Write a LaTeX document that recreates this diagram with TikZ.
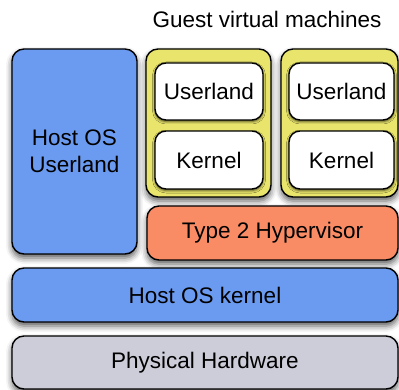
\documentclass[tikz,border=0pt]{standalone}
\usepackage{fontspec}
\setmainfont{Liberation Sans}
\usepackage{xcolor}
\usepackage{tikz}
\usetikzlibrary{shadows.blur}
\definecolor{hostblue}{RGB}{107,155,241}
\definecolor{vmyellow}{RGB}{233,228,108}
\definecolor{hypred}{RGB}{250,140,101}
\definecolor{hwgray}{RGB}{205,205,217}
\tikzset{every picture/.style={x=1pt,y=-1pt,every node/.style={font=\fontsize{22.5}{27}\selectfont}},
  layer/.style={rectangle, rounded corners=12pt, draw=black, line width=1.4pt, inner sep=0pt, align=center,
    blur shadow={shadow xshift=0pt, shadow yshift=-4pt, shadow blur radius=6pt, shadow opacity=65}},
  inbox/.style={layer, fill=white, rounded corners=11pt, blur shadow={shadow xshift=0pt, shadow yshift=-1.5pt, shadow blur radius=2.5pt, shadow opacity=40}}}

\begin{document}
\begin{tikzpicture}
  \useasboundingbox (0,0) rectangle (399,390);

  \node (title) at (267, 19){Guest virtual machines};

  \node[layer, fill=hostblue, minimum width=125pt, minimum height=205pt](hostuser) at (74.5, 151.5){Host OS\\Userland};
  \node[layer, fill=vmyellow, minimum width=125pt, minimum height=148pt](vm1) at (208.5, 123){};
  \node[layer, fill=vmyellow, minimum width=117pt, minimum height=148pt](vm2) at (339.5, 123){};

  \node[inbox, minimum width=108pt, minimum height=57pt](user1) at (209, 91.5){Userland};
  \node[inbox, minimum width=108pt, minimum height=58pt](kern1) at (209, 160){Kernel};
  \node[inbox, minimum width=105pt, minimum height=57pt](user2) at (341.5, 91.5){Userland};
  \node[inbox, minimum width=105pt, minimum height=58pt](kern2) at (341.5, 160){Kernel};

  \node[layer, fill=hypred, minimum width=251pt, minimum height=54pt](hyp) at (272.5, 233){Type 2 Hypervisor};
  \node[layer, fill=hostblue, minimum width=386pt, minimum height=54pt](hostkern) at (205, 295){Host OS kernel};
  \node[layer, fill=hwgray, minimum width=386pt, minimum height=53pt](hw) at (205, 362.5){Physical Hardware};
\end{tikzpicture}
\end{document}
